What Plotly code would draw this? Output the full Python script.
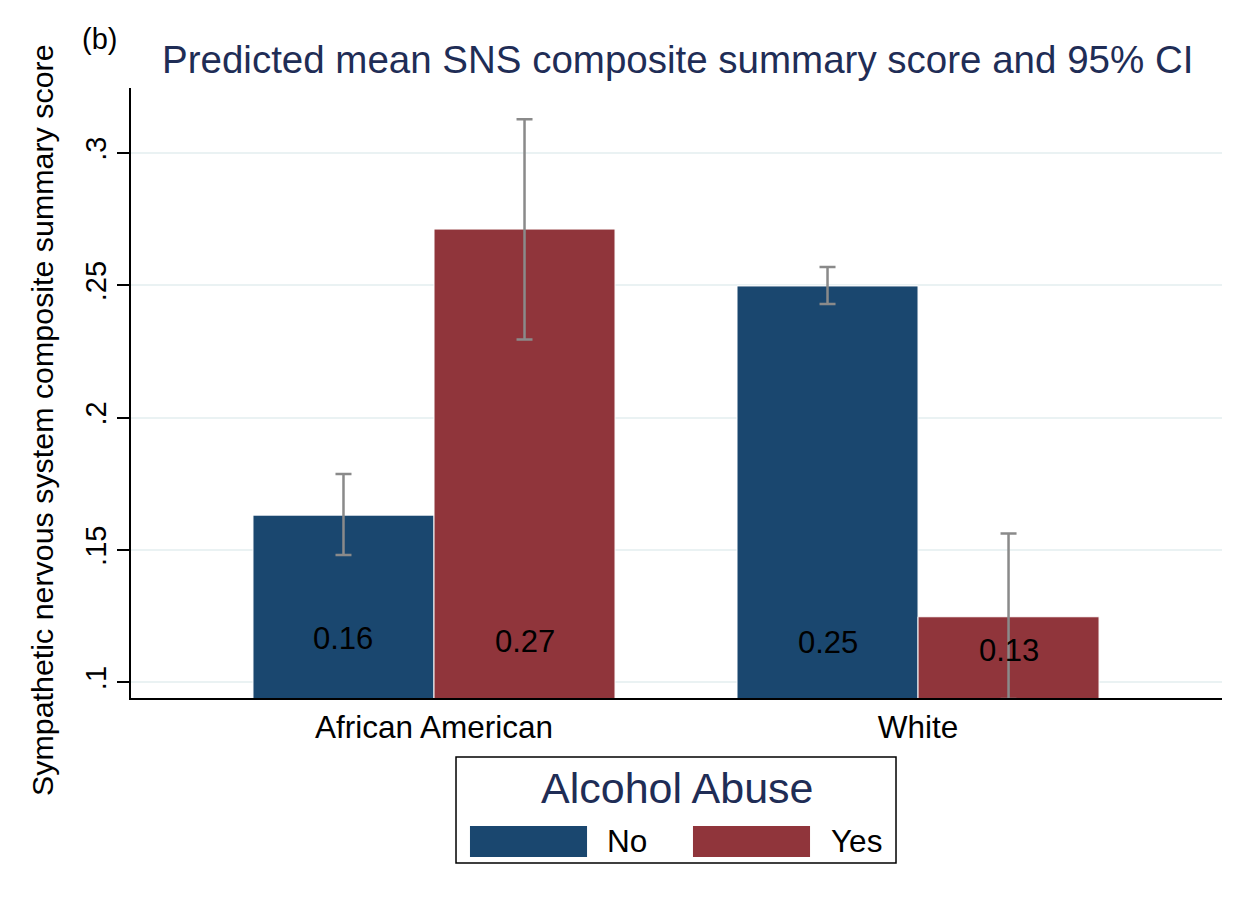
import plotly.graph_objects as go

categories = ["African American", "White"]
series_names = ["No", "Yes"]
series_colors = ["#1a476f", "#90353b"]
means = {"No": [0.1632, 0.2498], "Yes": [0.2713, 0.1248]}
ci_low = {"No": [0.1481, 0.2430], "Yes": [0.2296, 0.0937]}
ci_high = {"No": [0.1787, 0.2570], "Yes": [0.3128, 0.1563]}
bar_labels = {"No": ["0.16", "0.25"], "Yes": ["0.27", "0.13"]}
label_y = {"No": [0.1167, 0.1149], "Yes": [0.1155, 0.1121]}
y_ticks = [0.1, 0.15, 0.2, 0.25, 0.3]
y_tick_text = [".1", ".15", ".2", ".25", ".3"]

FONT = "Liberation Sans, Arial, sans-serif"
NAVY = "#1f2d56"

fig = go.Figure()
for name, color in zip(series_names, series_colors):
    m = means[name]
    fig.add_trace(go.Bar(
        x=categories, y=m, name=name,
        marker=dict(color=color, line=dict(color="white", width=1)),
        error_y=dict(type="data", symmetric=False,
                     array=[h - v for h, v in zip(ci_high[name], m)],
                     arrayminus=[v - l for v, l in zip(m, ci_low[name])],
                     color="#8a8a8a", thickness=2.5, width=8),
        showlegend=False,
    ))

fig.update_layout(
    width=1250, height=907,
    margin=dict(l=131, r=28, t=88, b=209),
    paper_bgcolor="white", plot_bgcolor="white",
    barmode="group", bargap=0.252, bargroupgap=0,
    font=dict(family=FONT, color="black"),
    xaxis=dict(range=[-0.626, 1.628], showline=True, linecolor="black", linewidth=1.5,
               ticks="", tickfont=dict(size=31.5, color="black"), showgrid=False,
               zeroline=False),
    yaxis=dict(range=[0.0941, 0.3246], tickvals=y_ticks, ticktext=y_tick_text,
               tickangle=-90, tickfont=dict(size=29, color="black"),
               ticks="outside", ticklen=12, tickwidth=1.5, tickcolor="black",
               showline=True, linecolor="black", linewidth=1.5,
               showgrid=True, gridcolor="#eaf2f3", gridwidth=2, zeroline=False),
)

# bar value labels
for i, name in enumerate(series_names):
    off = -0.187 if i == 0 else 0.187
    for j, cat in enumerate(categories):
        fig.add_annotation(x=j + off, y=label_y[name][j], xref="x", yref="y",
                           text=bar_labels[name][j], showarrow=False,
                           font=dict(size=31, color="black"),
                           xanchor="center", yanchor="middle")

# titles
fig.add_annotation(x=0.5005, y=1.0475, xref="paper", yref="paper",
                   text="Predicted mean SNS composite summary score and 95% CI",
                   showarrow=False, font=dict(size=38.5, color=NAVY),
                   xanchor="center", yanchor="middle")
fig.add_annotation(x=-0.0467, y=1.080, xref="paper", yref="paper", text="(b)",
                   showarrow=False, font=dict(size=29, color="black"),
                   xanchor="left", yanchor="middle")
fig.add_annotation(x=-0.0816, y=0.4557, xref="paper", yref="paper",
                   text="Sympathetic nervous system composite summary score",
                   textangle=-90, showarrow=False, font=dict(size=30.4, color="black"),
                   xanchor="center", yanchor="middle")

# legend (drawn manually to match the wide swatches)
fig.add_shape(type="rect", xref="paper", yref="paper",
              x0=0.2979, x1=0.7012, y0=-0.2705, y1=-0.0967,
              line=dict(color="black", width=1.5), fillcolor="white")
fig.add_annotation(x=0.5005, y=-0.1475, xref="paper", yref="paper",
                   text="Alcohol Abuse", showarrow=False,
                   font=dict(size=43, color=NAVY), xanchor="center", yanchor="middle")
sw_x = [(0.3107, 0.4180), (0.5151, 0.6224)]
txt_x = [0.4345, 0.6398]
for (x0, x1), tx, name, color in zip(sw_x, txt_x, series_names, series_colors):
    fig.add_shape(type="rect", xref="paper", yref="paper", x0=x0, x1=x1,
                  y0=-0.2607, y1=-0.2098, line=dict(width=0), fillcolor=color)
    fig.add_annotation(x=tx, y=-0.2344, xref="paper", yref="paper", text=name,
                       showarrow=False, font=dict(size=31.5, color="black"),
                       xanchor="left", yanchor="middle")

fig.write_html("out.html")
